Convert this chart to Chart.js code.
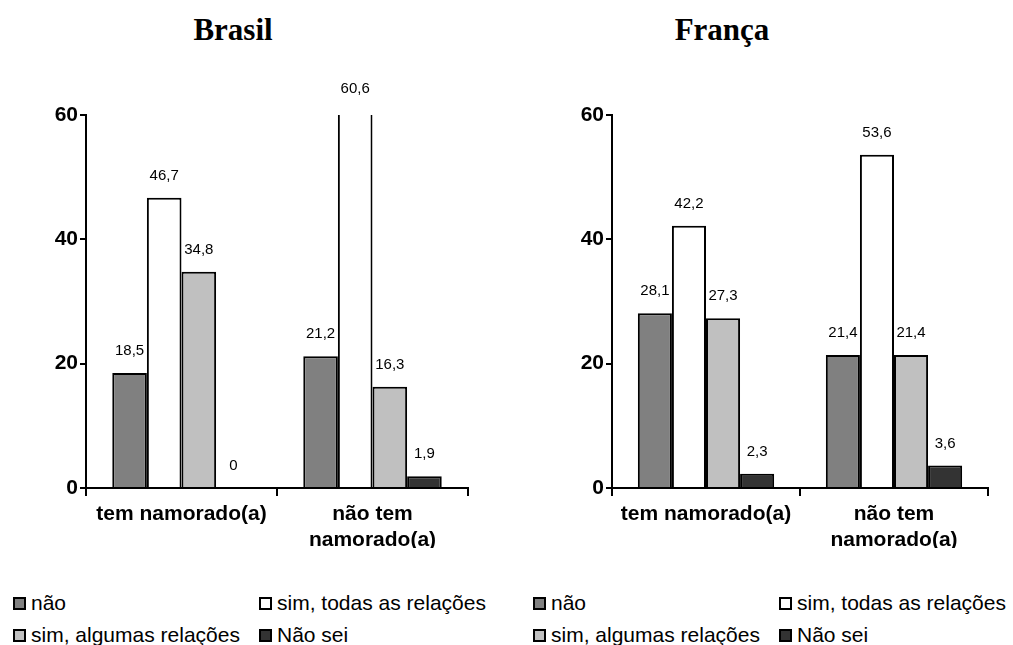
<!DOCTYPE html>
<html>
<head>
<meta charset="utf-8">
<script src="https://cdn.jsdelivr.net/npm/chart.js@4"></script>
<style>
  html, body { margin: 0; padding: 0; background: #fff; }
  body { width: 1013px; height: 645px; position: relative; overflow: hidden; font-family: "Liberation Sans", Arial, sans-serif; }
  .chartbox { position: absolute; top: 0; width: 506px; height: 548px; }
  .title { position: absolute; top: 10px; font-family: "Liberation Serif", "Times New Roman", serif; font-weight: bold; font-size: 31px; line-height: 40px; transform: translateX(-50%); white-space: nowrap; color: #000; }
  .legend { position: absolute; top: 587px; font-size: 21px; color: #000; display: grid; grid-template-columns: 246px auto; grid-auto-rows: 32px; align-items: center; }
  .litem { display: flex; align-items: center; white-space: nowrap; }
  .lbox { width: 9px; height: 9px; border: 2px solid #000; margin-right: 5px; box-sizing: content-box; flex: none; }
</style>
</head>
<body>
<div class="title" id="t0"></div>
<div class="title" id="t1"></div>
<div class="chartbox" style="left:0px"><canvas id="c0" width="506" height="548"></canvas></div>
<div class="chartbox" style="left:506px"><canvas id="c1" width="506" height="548"></canvas></div>
<div class="legend" id="lg0" style="left:13px"></div>
<div class="legend" id="lg1" style="left:533px"></div>
<script>
// ---- data ----
const chartTitles = ["Brasil", "França"];
const categories = [["tem namorado(a)"], ["não tem", "namorado(a)"]];
const seriesNames = ["não", "sim, todas as relações", "sim, algumas relações", "Não sei"];
const seriesColors = ["#808080", "#ffffff", "#c0c0c0", "#333333"];
const brasilNao      = [18.5, 21.2];
const brasilTodas    = [46.7, 60.6];
const brasilAlgumas  = [34.8, 16.3];
const brasilNaoSei   = [0, 1.9];
const francaNao      = [28.1, 21.4];
const francaTodas    = [42.2, 53.6];
const francaAlgumas  = [27.3, 21.4];
const francaNaoSei   = [2.3, 3.6];
const yTicks = [0, 20, 40, 60];

const font = '"Liberation Sans", Arial, sans-serif';

const valueLabels = {
  id: 'valueLabels',
  afterDatasetsDraw(chart) {
    const ctx = chart.ctx;
    const ys = chart.scales.y;
    ctx.save();
    ctx.font = '15px ' + font;
    ctx.fillStyle = '#000';
    ctx.textAlign = 'center';
    ctx.textBaseline = 'middle';
    chart.data.datasets.forEach((ds, di) => {
      const meta = chart.getDatasetMeta(di);
      meta.data.forEach((bar, i) => {
        const v = ds.data[i];
        const y = ys.getPixelForValue(v) - 22;
        ctx.fillText(String(v).replace('.', ','), bar.x, y);
      });
    });
    ctx.restore();
  }
};

function makeChart(id, series, axisWidth, padRight) {
  return new Chart(document.getElementById(id), {
    type: 'bar',
    data: {
      labels: categories,
      datasets: series.map((d, k) => ({
        label: seriesNames[k],
        data: d,
        backgroundColor: seriesColors[k],
        borderColor: '#000',
        borderWidth: 2,
        barPercentage: 1,
        categoryPercentage: 0.725
      }))
    },
    options: {
      responsive: false,
      animation: false,
      devicePixelRatio: 1,
      layout: { padding: { top: 115, right: padRight, bottom: 0, left: 0 } },
      plugins: { legend: { display: false }, tooltip: { enabled: false }, title: { display: false } },
      scales: {
        x: {
          offset: true,
          grid: { display: true, offset: true, drawOnChartArea: false, drawTicks: true, tickLength: 8, color: '#000', lineWidth: 2 },
          border: { display: true, color: '#000', width: 2 },
          ticks: { color: '#000', font: { family: font, size: 21, weight: 'bold', lineHeight: 1.2 }, padding: 6, maxRotation: 0, autoSkip: false },
          afterFit(s) { s.height = 60; }
        },
        y: {
          min: 0, max: 60,
          afterBuildTicks(s) { s.ticks = yTicks.map(v => ({ value: v })); },
          grid: { display: true, drawOnChartArea: false, drawTicks: true, tickLength: 6, color: '#000', lineWidth: 2 },
          border: { display: true, color: '#000', width: 2 },
          ticks: { color: '#000', font: { family: font, size: 21, weight: 'bold' }, padding: 2 },
          afterFit(s) { s.width = axisWidth; }
        }
      }
    },
    plugins: [valueLabels]
  });
}

makeChart('c0', [brasilNao, brasilTodas, brasilAlgumas, brasilNaoSei], 86, 38);
makeChart('c1', [francaNao, francaTodas, francaAlgumas, francaNaoSei], 106, 24);

document.getElementById('t0').textContent = chartTitles[0];
document.getElementById('t0').style.left = '233px';
document.getElementById('t1').textContent = chartTitles[1];
document.getElementById('t1').style.left = '722px';

function item(k) {
  const el = document.createElement('div');
  el.className = 'litem';
  const b = document.createElement('span');
  b.className = 'lbox';
  b.style.background = seriesColors[k];
  const t = document.createElement('span');
  t.textContent = seriesNames[k];
  el.appendChild(b); el.appendChild(t);
  return el;
}
function buildLegend(id) {
  const lg = document.getElementById(id);
  seriesNames.forEach((_, k) => lg.appendChild(item(k)));
}
buildLegend('lg0');
buildLegend('lg1');
</script>
</body>
</html>
